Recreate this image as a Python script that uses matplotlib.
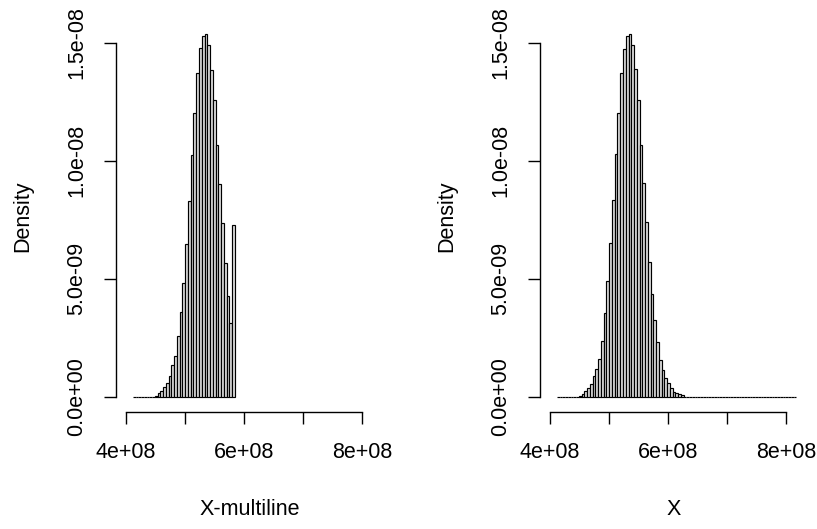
import matplotlib
matplotlib.use("Agg")
import matplotlib.pyplot as plt
import numpy as np

plt.rcParams['font.family'] = ['Liberation Sans', 'DejaVu Sans']

# histogram breaks (shared by both panels)
break_start = 4.117e8
bin_width = 4.66e6

# densities per bin (left panel: X-multiline)
dens_multiline = [0, 0, 0, 0, 0, 0, 0, 0,
                  0.042e-9, 0.14e-9, 0.254e-9, 0.40e-9, 0.58e-9, 0.86e-9, 1.33e-9, 1.74e-9,
                  2.58e-9, 3.60e-9, 4.82e-9, 6.45e-9, 8.28e-9, 10.25e-9, 12.02e-9, 13.72e-9,
                  14.76e-9, 15.30e-9, 15.37e-9, 14.90e-9, 13.84e-9, 12.57e-9, 10.66e-9, 9.02e-9,
                  7.36e-9, 5.67e-9, 4.27e-9, 3.12e-9, 7.28e-9]

# right panel: X
dens_x = [0, 0, 0, 0, 0, 0, 0, 0,
          0.042e-9, 0.11e-9, 0.25e-9, 0.39e-9, 0.53e-9, 0.87e-9, 1.16e-9, 1.58e-9,
          2.34e-9, 3.53e-9, 4.90e-9, 6.52e-9, 8.33e-9, 10.30e-9, 12.03e-9, 13.72e-9,
          14.75e-9, 15.27e-9, 15.37e-9, 14.90e-9, 13.87e-9, 12.58e-9, 10.66e-9, 9.05e-9,
          7.39e-9, 5.72e-9, 4.36e-9, 3.26e-9, 2.33e-9, 1.57e-9, 1.14e-9, 0.81e-9,
          0.59e-9, 0.38e-9, 0.21e-9, 0.15e-9, 0.10e-9, 0.06e-9] + [0] * 41

x_ticks = [4e8, 5e8, 6e8, 7e8, 8e8]
x_ticklabels = ['4e+08', '', '6e+08', '', '8e+08']
y_ticks = [0, 5e-9, 1e-8, 1.5e-8]
y_ticklabels = ['0.0e+00', '5.0e-09', '1.0e-08', '1.5e-08']
xlabels = ['X-multiline', 'X']

fig = plt.figure(figsize=(8.17, 5.29), dpi=100)
W, H = 817.0, 529.0
fs = 15.5

# plot regions in pixels: left, bottom(y from top), width, height
regions = [(116, 412, 268, 392), (540, 412, 268, 392)]

for i, dens in enumerate([dens_multiline, dens_x]):
    left, bot, w, h = regions[i]
    ax = fig.add_axes([left / W, 1 - bot / H, w / W, h / H])
    edges = break_start + bin_width * np.arange(len(dens))
    ax.bar(edges, dens, width=bin_width, align='edge', color='#dcdcdc',
           edgecolor='black', linewidth=0.85)
    ax.set_xlim(3.831e8, 8.366e8)
    ax.set_ylim(-6.48e-10, 1.596e-8)

    for s in ['top', 'right']:
        ax.spines[s].set_visible(False)
    ax.spines['left'].set_bounds(0, 1.5e-8)
    ax.spines['bottom'].set_bounds(4e8, 8e8)
    ax.spines['left'].set_linewidth(1.0)
    ax.spines['bottom'].set_linewidth(1.0)

    ax.set_xticks(x_ticks)
    ax.set_xticklabels(x_ticklabels)
    ax.set_yticks(y_ticks)
    ax.set_yticklabels(y_ticklabels, rotation=90, va='center')
    ax.tick_params(axis='both', direction='out', length=8.5, width=1.0,
                   labelsize=fs, colors='black')
    ax.tick_params(axis='x', pad=13)
    ax.tick_params(axis='y', pad=12)

    ax.set_xlabel(xlabels[i], fontsize=fs)
    ax.set_ylabel('Density', fontsize=fs)
    ax.xaxis.set_label_coords(0.5, -0.222)
    ax.yaxis.set_label_coords(-0.31, 0.5)

fig.savefig('out.png', dpi=100)
